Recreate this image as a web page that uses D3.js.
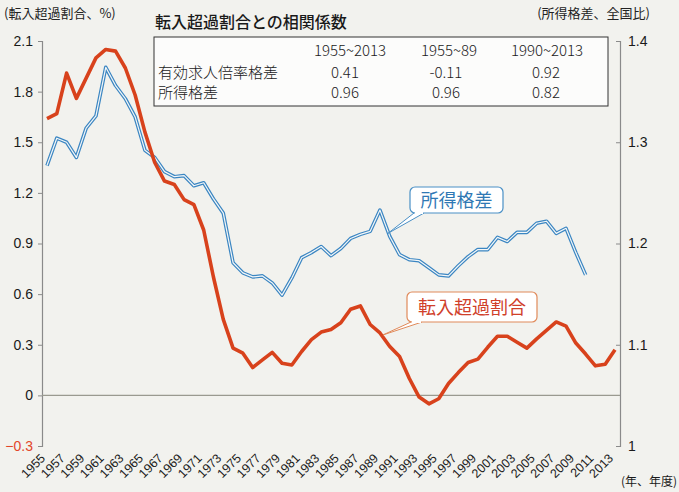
<!DOCTYPE html>
<html><head><meta charset="utf-8">
<script src="https://cdn.jsdelivr.net/npm/d3@7"></script>
<style>
html,body{margin:0;padding:0;background:#f2f2ee;}
svg{display:block;}
</style></head>
<body>
<script>
// ---- data ----
const years = d3.range(1955, 2014);
// 転入超過割合 (%), 1955-2013, left axis
const migration = [1.64,1.67,1.91,1.76,1.88,2.00,2.05,2.04,1.94,1.78,
  1.56,1.38,1.27,1.25,1.16,1.13,0.98,0.70,0.45,0.28,
  0.25,0.165,0.21,0.255,0.19,0.18,0.26,0.33,0.375,0.39,
  0.43,0.51,0.53,0.42,0.37,0.29,0.23,0.10,-0.01,-0.05,
  -0.02,0.07,0.135,0.195,0.215,0.285,0.35,0.35,0.315,0.28,
  0.335,0.385,0.435,0.41,0.31,0.245,0.175,0.185,0.27];
// 所得格差 (全国比), 1955-2010, right axis
const incomeGap = [1.277,1.304,1.300,1.285,1.314,1.326,1.374,1.356,1.343,1.325,
  1.292,1.285,1.271,1.266,1.267,1.257,1.260,1.244,1.230,1.181,
  1.171,1.167,1.168,1.161,1.149,1.166,1.186,1.191,1.197,1.188,
  1.195,1.205,1.209,1.212,1.233,1.207,1.189,1.184,1.183,1.176,
  1.169,1.168,1.178,1.187,1.194,1.194,1.206,1.202,1.211,1.211,
  1.220,1.222,1.210,1.215,1.191,1.169];
const leftTicks = [-0.3,0,0.3,0.6,0.9,1.2,1.5,1.8,2.1];
const rightTicks = [1,1.1,1.2,1.3,1.4];
const xTickYears = d3.range(1955, 2014, 2);
const tableTitle = "転入超過割合との相関係数";
const tableHeader = ["1955~2013","1955~89","1990~2013"];
const tableRows = ["有効求人倍率格差","所得格差"];
const tableValues = [["0.41","-0.11","0.92"],["0.96","0.96","0.82"]];

// ---- layout ----
const W = 679, H = 492;
const svg = d3.select("body").append("svg").attr("width", W).attr("height", H);
const JP = "'Noto Sans CJK JP','Noto Sans',sans-serif";
const LAT = "'Liberation Sans',Arial,sans-serif";

const x = d3.scaleLinear().domain([1955, 2013]).range([47, 615]);
const yL = d3.scaleLinear().domain([-0.3, 2.1]).range([446, 41]);
const yR = d3.scaleLinear().domain([1.0, 1.4]).range([446, 41]);
const axL = 42, axR = 620;

// axis titles
svg.append("text").attr("x", 4).attr("y", 18).attr("font-family", JP).attr("font-size", 13)
  .attr("fill", "#222").text("(転入超過割合、%)");
svg.append("text").attr("x", 650).attr("y", 18).attr("text-anchor", "end").attr("font-family", JP)
  .attr("font-size", 13).attr("fill", "#222").text("(所得格差、全国比)");

// left axis
const gL = svg.append("g").attr("transform", `translate(${axL},0)`)
  .call(d3.axisLeft(yL).tickValues(leftTicks).tickSize(4).tickPadding(5)
    .tickFormat(d => d === 0 ? "0" : d3.format(".1f")(d)));
gL.select(".domain").attr("stroke", "#8a8a8a").attr("stroke-width", 1.2);
gL.selectAll(".tick line").attr("stroke", "#8a8a8a");
gL.selectAll(".tick text").attr("font-family", LAT).attr("font-size", 14)
  .attr("fill", d => d < 0 ? "#e2462a" : "#1a1a1a");

// right axis
const gR = svg.append("g").attr("transform", `translate(${axR},0)`)
  .call(d3.axisRight(yR).tickValues(rightTicks).tickSize(-4).tickPadding(8)
    .tickFormat(d => d === 1 ? "1" : d3.format(".1f")(d)));
gR.select(".domain").attr("stroke", "#8a8a8a").attr("stroke-width", 1.2);
gR.selectAll(".tick line").attr("stroke", "#8a8a8a");
gR.selectAll(".tick text").attr("font-family", LAT).attr("font-size", 14).attr("fill", "#1a1a1a");

// zero line
svg.append("line").attr("x1", axL).attr("x2", axR).attr("y1", yL(0)).attr("y2", yL(0))
  .attr("stroke", "#9a9a90").attr("stroke-width", 1.2);

// x labels
const xg = svg.append("g");
xg.selectAll("text").data(xTickYears).join("text")
  .attr("transform", d => `translate(${x(d) - 1},${459}) rotate(-45)`)
  .attr("text-anchor", "end").attr("font-family", LAT).attr("font-size", 12.5)
  .attr("fill", "#1a1a1a").text(d => d);
svg.append("text").attr("x", 621).attr("y", 486).attr("font-family", JP).attr("font-size", 12)
  .attr("fill", "#1a1a1a").text("(年、年度)");

// lines
const lineL = d3.line().x((d, i) => x(years[i])).y(d => yL(d));
const lineR = d3.line().x((d, i) => x(years[i])).y(d => yR(d));
svg.append("path").datum(incomeGap).attr("d", lineR).attr("fill", "none")
  .attr("stroke", "#3b86c2").attr("stroke-width", 3.6).attr("stroke-linejoin", "round");
svg.append("path").datum(incomeGap).attr("d", lineR).attr("fill", "none")
  .attr("stroke", "#f4f7f8").attr("stroke-width", 1.2).attr("stroke-linejoin", "round");
svg.append("path").datum(migration).attr("d", lineL).attr("fill", "none")
  .attr("stroke", "#d8421c").attr("stroke-width", 3.6).attr("stroke-linejoin", "round");

// callouts
function callout(bx, by, bw, bh, tip, base1, base2, label, stroke, textColor) {
  const g = svg.append("g");
  g.append("path").attr("d", `M${base1[0]},${base1[1]} L${tip[0]},${tip[1]} L${base2[0]},${base2[1]}`)
    .attr("fill", "#fff").attr("stroke", stroke).attr("stroke-width", 1);
  g.append("rect").attr("x", bx).attr("y", by).attr("width", bw).attr("height", bh)
    .attr("rx", 5).attr("fill", "#fff").attr("stroke", stroke).attr("stroke-width", 1.2);
  g.append("path").attr("d", `M${base1[0]+1},${by+bh} L${base2[0]-1},${by+bh}`)
    .attr("stroke", "#fff").attr("stroke-width", 2);
  g.append("text").attr("x", bx + bw / 2).attr("y", by + bh / 2 + 6.5).attr("text-anchor", "middle")
    .attr("font-family", JP).attr("font-size", 18).attr("fill", textColor).text(label);
}
callout(410, 187, 93, 26, [x(1989) + 8, yR(1.212) + 2], [414, 213], [424, 213], "所得格差", "#4a90c6", "#2f78b4");
callout(407, 292, 130, 30, [x(1989) + 3, yL(0.37) + 2], [411, 322], [422, 322], "転入超過割合", "#e08a5a", "#d0402a");

// table
svg.append("text").attr("x", 155).attr("y", 28).attr("font-family", JP).attr("font-size", 16)
  .attr("font-weight", 500).attr("fill", "#1a1a1a").text(tableTitle);
svg.append("rect").attr("x", 154).attr("y", 37).attr("width", 454).attr("height", 69)
  .attr("fill", "#fcfcfb").attr("stroke", "#333").attr("stroke-width", 1);
const colX = [350, 449, 547];
tableHeader.forEach((h, j) => svg.append("text").attr("x", colX[j]).attr("y", 56)
  .attr("text-anchor", "middle").attr("font-family", JP).attr("font-size", 15).attr("font-weight", 300)
  .attr("fill", "#1a1a1a").text(h));
const valX = [345, 446, 546];
tableRows.forEach((r, i) => {
  const yy = 78 + i * 20;
  svg.append("text").attr("x", 158).attr("y", yy).attr("font-family", JP).attr("font-size", 15)
    .attr("font-weight", 300).attr("fill", "#1a1a1a").text(r);
  tableValues[i].forEach((v, j) => svg.append("text").attr("x", valX[j]).attr("y", yy)
    .attr("text-anchor", "middle").attr("font-family", JP).attr("font-size", 15).attr("font-weight", 300)
    .attr("fill", "#1a1a1a").text(v));
});
</script>
</body></html>
